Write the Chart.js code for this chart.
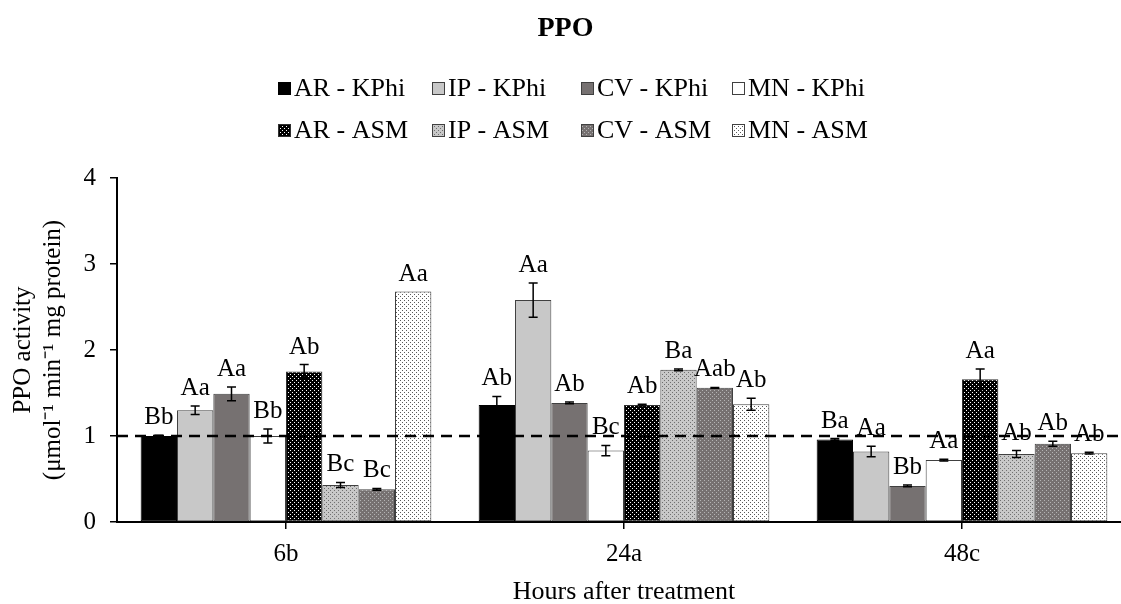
<!DOCTYPE html>
<html><head><meta charset="utf-8">
<script src="https://cdn.jsdelivr.net/npm/chart.js@4.4.1/dist/chart.umd.min.js"></script>
<style>
html,body{margin:0;padding:0;overflow:hidden;background:#fff;width:1121px;height:604px}
#wrap{position:relative;width:1140px;height:604px}
</style></head>
<body><div id="wrap"><canvas id="c" width="1140" height="604" style="width:1140px;height:604px"></canvas></div>
<script>
// ---- data ----
const categories = ['6b', '24a', '48c'];
const seriesNames = ['AR - KPhi', 'IP - KPhi', 'CV - KPhi', 'MN - KPhi', 'AR - ASM', 'IP - ASM', 'CV - ASM', 'MN - ASM'];
const arKPhi = [1.00, 1.36, 0.96];
const ipKPhi = [1.30, 2.58, 0.82];
const cvKPhi = [1.49, 1.385, 0.42];
const mnKPhi = [1.00, 0.83, 0.72];
const arASM  = [1.75, 1.36, 1.66];
const ipASM  = [0.43, 1.77, 0.79];
const cvASM  = [0.38, 1.56, 0.91];
const mnASM  = [2.68, 1.37, 0.80];
const arKPhiErr = [0.01, 0.10, 0.01];
const ipKPhiErr = [0.05, 0.20, 0.06];
const cvKPhiErr = [0.08, 0.01, 0.01];
const mnKPhiErr = [0.08, 0.06, 0.01];
const arASMErr  = [0.08, 0.01, 0.12];
const ipASMErr  = [0.03, 0.01, 0.04];
const cvASMErr  = [0.01, 0.005, 0.03];
const mnASMErr  = [0.00, 0.07, 0.01];
const arKPhiLbl = ['Bb', 'Ab', 'Ba'];
const ipKPhiLbl = ['Aa', 'Aa', 'Aa'];
const cvKPhiLbl = ['Aa', 'Ab', 'Bb'];
const mnKPhiLbl = ['Bb', 'Bc', 'Aa'];
const arASMLbl  = ['Ab', 'Ab', 'Aa'];
const ipASMLbl  = ['Bc', 'Ba', 'Ab'];
const cvASMLbl  = ['Bc', 'Aab', 'Ab'];
const mnASMLbl  = ['Aa', 'Ab', 'Ab'];
const yTicks = [0, 1, 2, 3, 4];
const referenceLevel = 1;

// ---- styles ----
function makePattern(bg, dot, size, dots) {
  const c = document.createElement('canvas');
  c.width = size; c.height = size;
  const x = c.getContext('2d');
  x.fillStyle = bg; x.fillRect(0, 0, size, size);
  x.fillStyle = dot;
  dots.forEach(([a, b]) => x.fillRect(a, b, 1, 1));
  return x.createPattern(c, 'repeat');
}
const dotGrid = [[0, 0], [2, 2]];
const fills = [
  '#000000', '#c8c8c8', '#767171', '#ffffff',
  makePattern('#000000', '#ffffff', 4, dotGrid),
  makePattern('#c8c8c8', '#6e6e6e', 4, dotGrid),
  makePattern('#767171', '#b4b4b4', 4, dotGrid),
  makePattern('#ffffff', '#5a5a5a', 4, dotGrid)
];
const borders = ['#000000', '#404040', '#404040', '#404040', '#303030', '#404040', '#404040', '#404040'];

const values = [arKPhi, ipKPhi, cvKPhi, mnKPhi, arASM, ipASM, cvASM, mnASM];
const errs = [arKPhiErr, ipKPhiErr, cvKPhiErr, mnKPhiErr, arASMErr, ipASMErr, cvASMErr, mnASMErr];
const lbls = [arKPhiLbl, ipKPhiLbl, cvKPhiLbl, mnKPhiLbl, arASMLbl, ipASMLbl, cvASMLbl, mnASMLbl];

const datasets = seriesNames.map((name, i) => ({
  label: name,
  data: values[i],
  backgroundColor: fills[i],
  borderColor: borders[i],
  borderWidth: 1,
  borderSkipped: false,
  barPercentage: 1.0,
  categoryPercentage: 0.86
}));

const FONT = '"Liberation Serif", "Times New Roman", serif';

const overlayPlugin = {
  id: 'overlay',
  afterDatasetsDraw(chart) {
    const ctx = chart.ctx;
    const y = chart.scales.y;
    const area = chart.chartArea;
    ctx.save();
    // error bars
    ctx.strokeStyle = '#000';
    ctx.lineWidth = 1.5;
    chart.data.datasets.forEach((ds, di) => {
      const meta = chart.getDatasetMeta(di);
      meta.data.forEach((bar, j) => {
        const e = errs[di][j];
        if (!e) return;
        const v = ds.data[j];
        const top = y.getPixelForValue(v + e), bot = y.getPixelForValue(v - e);
        ctx.beginPath();
        ctx.moveTo(bar.x, top); ctx.lineTo(bar.x, bot);
        ctx.moveTo(bar.x - 4.5, top); ctx.lineTo(bar.x + 4.5, top);
        ctx.moveTo(bar.x - 4.5, bot); ctx.lineTo(bar.x + 4.5, bot);
        ctx.stroke();
      });
    });
    // reference dashed line
    const ry = y.getPixelForValue(referenceLevel);
    ctx.setLineDash([11, 7]);
    ctx.lineWidth = 2.5;
    ctx.beginPath();
    ctx.moveTo(area.left, ry); ctx.lineTo(area.right, ry);
    ctx.stroke();
    ctx.setLineDash([]);
    // letter labels
    ctx.fillStyle = '#000';
    ctx.font = '25px ' + FONT;
    ctx.textAlign = 'center';
    ctx.textBaseline = 'alphabetic';
    chart.data.datasets.forEach((ds, di) => {
      const meta = chart.getDatasetMeta(di);
      meta.data.forEach((bar, j) => {
        const top = y.getPixelForValue(ds.data[j] + errs[di][j]);
        ctx.fillText(lbls[di][j], bar.x, top - 11);
      });
    });
    ctx.restore();
  },
  afterDraw(chart) {
    const ctx = chart.ctx;
    const xs = [278, 432, 581, 732];
    const ys = [88, 130];
    ctx.save();
    ctx.font = '26px ' + FONT;
    ctx.textBaseline = 'middle';
    ctx.textAlign = 'left';
    chart.data.datasets.forEach((ds, i) => {
      const x = xs[i % 4], yy = ys[Math.floor(i / 4)];
      ctx.fillStyle = ds.backgroundColor;
      ctx.fillRect(x, yy - 6, 13, 13);
      ctx.strokeStyle = ds.borderColor;
      ctx.lineWidth = 1;
      ctx.strokeRect(x + 0.5, yy - 5.5, 12, 12);
      ctx.fillStyle = '#000';
      ctx.fillText(ds.label, x + 16, yy + 1);
    });
    ctx.restore();
  }
};

new Chart(document.getElementById('c'), {
  type: 'bar',
  data: { labels: categories, datasets },
  plugins: [overlayPlugin],
  options: {
    responsive: false,
    animation: false,
    devicePixelRatio: 1,
    layout: { padding: { left: 0, right: 9, top: 0, bottom: 0 } },
    plugins: {
      legend: { display: false },
      tooltip: { enabled: false },
      title: {
        display: true,
        text: 'PPO',
        color: '#000',
        font: { family: FONT, size: 28, weight: 'bold', lineHeight: 1.2 },
        padding: { top: 12, bottom: 132.4 }
      }
    },
    scales: {
      x: {
        offset: true,
        grid: { offset: false, drawOnChartArea: false, drawTicks: true, tickLength: 7, color: '#000', lineWidth: 1.5 },
        border: { display: true, color: '#000', width: 2 },
        ticks: { color: '#000', font: { family: FONT, size: 25, lineHeight: 1.2 }, padding: 10 },
        title: { display: true, text: 'Hours after treatment', color: '#000', font: { family: FONT, size: 26, lineHeight: 1 }, padding: { top: 0, bottom: -1 } },
        afterFit(s) { s.height = 82; }
      },
      y: {
        min: 0, max: 4,
        afterBuildTicks(s) { s.ticks = yTicks.map(v => ({ value: v })); },
        grid: { drawOnChartArea: false, drawTicks: true, tickLength: 7, color: '#000', lineWidth: 1.5 },
        border: { display: true, color: '#000', width: 2 },
        ticks: { color: '#000', font: { family: FONT, size: 25 }, padding: 14 },
        title: {
          display: true,
          text: ['PPO activity', '(\u03bcmol\u207b\u00b9 min\u207b\u00b9 mg protein)'],
          color: '#000',
          font: { family: FONT, size: 25, lineHeight: 1.2 },
          padding: { top: 8, bottom: 0 }
        },
        afterFit(s) { s.width = 117; }
      }
    }
  }
});
</script>
</body></html>
